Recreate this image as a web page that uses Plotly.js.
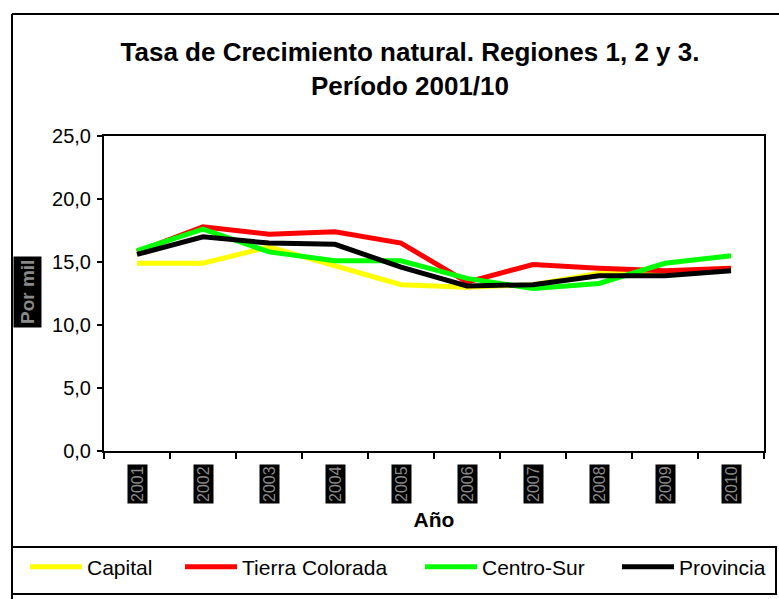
<!DOCTYPE html>
<html>
<head>
<meta charset="utf-8">
<script src="https://cdn.plot.ly/plotly-3.0.1.min.js"></script>
<style>html,body{margin:0;padding:0;background:#fff}#chart{width:779px;height:599px}</style>
</head>
<body>
<div id="chart"></div>
<script>
const years = ['2001','2002','2003','2004','2005','2006','2007','2008','2009','2010'];
const capital = [14.9, 14.9, 16.2, 14.7, 13.2, 13.0, 13.2, 14.1, 14.2, 14.5];
const tierraColorada = [15.8, 17.8, 17.2, 17.4, 16.5, 13.4, 14.8, 14.5, 14.3, 14.5];
const centroSur = [15.9, 17.6, 15.8, 15.1, 15.1, 13.7, 12.9, 13.3, 14.9, 15.5];
const provincia = [15.6, 17.0, 16.5, 16.4, 14.6, 13.1, 13.2, 13.9, 13.9, 14.3];
const seriesNames = ['Capital', 'Tierra Colorada', 'Centro-Sur', 'Provincia'];
const yTicks = [0, 5, 10, 15, 20, 25];

const colors = ['#FFFF00', '#FF0000', '#00FF00', '#000000'];
const allSeries = [capital, tierraColorada, centroSur, provincia];
const legendIds = ['legend', 'legend2', 'legend3', 'legend4'];
const legendX = [25, 180, 420, 617];

const traces = allSeries.map((s, i) => ({
  type: 'scatter', mode: 'lines', x: years, y: s, name: seriesNames[i],
  line: {color: colors[i], width: 5}, legend: legendIds[i]
}));

const W = 779, H = 599, L = 104, R = 764, T = 136, B = 451;
const px = v => (v - L) / (R - L);
const py = v => (B - v) / (B - T);
const FONT = 'Arial, "Liberation Sans", sans-serif';

const layout = {
  width: W, height: H,
  margin: {l: L, r: W - R, t: T, b: H - B},
  paper_bgcolor: '#fff', plot_bgcolor: '#fff',
  separators: ',.',
  font: {family: FONT, color: '#000'},
  title: {text: '<b>Tasa de Crecimiento natural. Regiones 1, 2 y 3.<br>Período 2001/10</b>',
    font: {size: 26, color: '#000', family: FONT}, x: 410 / W, xanchor: 'center', xref: 'container',
    y: 1 - 61 / H, yanchor: 'top', yref: 'container'},
  xaxis: {type: 'category', range: [-0.5, 9.5], tickson: 'boundaries', ticks: 'outside',
    ticklen: 6, tickwidth: 1.5, tickcolor: '#000', showticklabels: false,
    showline: true, linecolor: '#000', linewidth: 2, mirror: true, showgrid: false, zeroline: false,
    title: {text: '<b>Año</b>', font: {size: 21, color: '#000'}, standoff: 60}},
  yaxis: {range: [0, 25], tickvals: yTicks, tickformat: '.1f', ticks: 'outside', ticklen: 5,
    tickwidth: 1.5, tickcolor: '#000', tickfont: {size: 20, color: '#000'}, ticklabelstandoff: 2,
    showline: true, linecolor: '#000', linewidth: 2, mirror: true, showgrid: false, zeroline: false},
  showlegend: true,
  shapes: [
    {type: 'line', xref: 'paper', yref: 'paper', x0: px(12), x1: px(779), y0: py(14), y1: py(14), line: {color: '#000', width: 2}},
    {type: 'line', xref: 'paper', yref: 'paper', x0: px(12), x1: px(12), y0: py(14), y1: py(599), line: {color: '#000', width: 2}},
    {type: 'rect', xref: 'paper', yref: 'paper', x0: px(12), x1: px(776), y0: py(547), y1: py(594), line: {color: '#000', width: 2}}
  ],
  annotations: years.map((yr, i) => ({
    x: i, xref: 'x', y: py(484), yref: 'paper', text: yr, textangle: -90, showarrow: false,
    font: {size: 16, color: '#8a8a8a', family: FONT},
    bgcolor: '#000', borderpad: 1, xanchor: 'center', yanchor: 'middle'
  })).concat([{
    x: px(27), xref: 'paper', y: py(292), yref: 'paper', text: '<b>Por mil</b>', textangle: -90,
    showarrow: false, font: {size: 19, color: '#8a8a8a', family: FONT}, bgcolor: '#000', borderpad: 3,
    xanchor: 'center', yanchor: 'middle'
  }])
};
legendIds.forEach((id, i) => {
  layout[id] = {x: legendX[i] / W, xref: 'container', xanchor: 'left', y: (H - 567) / H,
    yref: 'container', yanchor: 'middle', orientation: 'h', bgcolor: 'rgba(0,0,0,0)',
    borderwidth: 0, font: {size: 21, color: '#000', family: FONT}, itemwidth: 52};
});

Plotly.newPlot('chart', traces, layout, {displayModeBar: false, staticPlot: true});
</script>
</body>
</html>
